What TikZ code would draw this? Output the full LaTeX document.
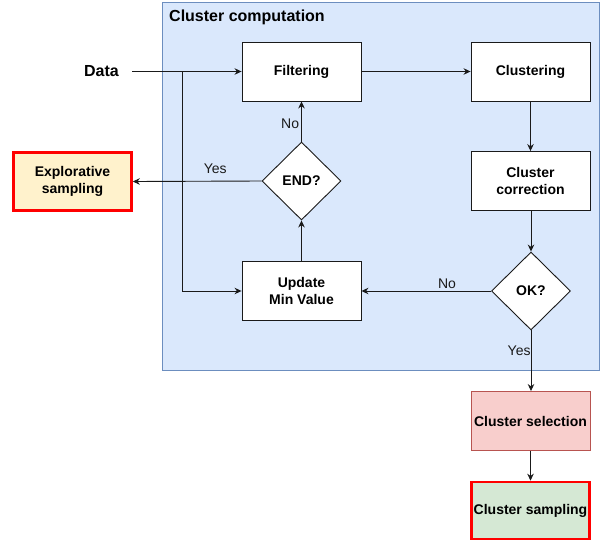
\documentclass[tikz,border=0pt]{standalone}
\usepackage{fontspec}
\setmainfont{Liberation Sans}
\usetikzlibrary{arrows.meta,shapes.geometric}
\definecolor{groupfill}{HTML}{DAE8FC}
\definecolor{groupline}{HTML}{6C8EBF}
\definecolor{yellowfill}{HTML}{FFF2CC}
\definecolor{redfill}{HTML}{F8CECC}
\definecolor{redline}{HTML}{B85450}
\definecolor{greenfill}{HTML}{D5E8D4}
\definecolor{edge}{HTML}{1A1A1A}
\begin{document}
\begin{tikzpicture}[x=1pt,y=-1pt,
  procbox/.style={draw=edge,fill=white,line width=0.9pt,minimum width=119pt,minimum height=59pt,inner sep=0pt,align=center,font=\fontsize{14}{17}\selectfont\bfseries},
  decision/.style={draw=edge,fill=white,line width=0.9pt,diamond,minimum width=79pt,minimum height=78pt,inner sep=0pt,aspect=1,font=\fontsize{14}{17}\selectfont\bfseries},
  flow/.style={draw=edge,line width=0.9pt,-{Stealth[length=7pt,width=6.5pt]}},
  plain/.style={draw=edge,line width=0.9pt},
  edgelabel/.style={font=\fontsize{14}{17}\selectfont,text=edge,inner sep=2pt}
]
\useasboundingbox (0,0) rectangle (600,544);
% group container
\draw[groupline,fill=groupfill,line width=0.9pt] (162,2) rectangle (599.5,370);
\node[anchor=west,inner sep=0pt,font=\fontsize{16}{19}\selectfont\bfseries] (title) at (169,17) {Cluster computation};

% process steps
\node[procbox] (filter) at (301.5,71.5) {Filtering};
\node[procbox] (clust) at (530.5,71.5) {Clustering};
\node[procbox] (corr) at (530.5,181) {Cluster\\correction};
\node[decision] (ok) at (531,291) {OK?};
\node[procbox] (update) at (301.5,291) {Update\\Min Value};
\node[decision] (endq) at (301.5,181) {END?};
\node[procbox,fill=yellowfill,draw=red,line width=2.6pt,minimum width=118pt,minimum height=58pt] (explore) at (72.5,181.5) {Explorative\\sampling};
\node[procbox,fill=redfill,draw=redline,minimum width=119pt] (select) at (530.5,421) {Cluster selection};
\node[procbox,fill=greenfill,draw=red,line width=2.6pt,minimum width=118pt,minimum height=57pt] (sample) at (530.5,510.5) {Cluster sampling};

% input
\node[font=\fontsize{16}{19}\selectfont\bfseries] (data) at (101.5,71.5) {Data};
\coordinate (src) at (132,71.5);
\coordinate (split) at (182,71.5);
\coordinate (down) at (182,291);

% connectors
\draw[flow] (src) -- (filter.west);
\draw[plain] (split) -- (down);
\draw[flow] (down) -- (update.west);
\draw[flow] (filter.east) -- (clust.west);
\draw[flow] (clust.south) -- (corr.north);
\draw[flow] (corr.south -| ok.north) -- (ok.north);
\draw[flow] (ok.west) -- node[edgelabel,above,pos=0.34] (nolbl) {No} (update.east);
\draw[flow] (update.north) -- (endq.south);
\draw[flow] (endq.north) -- node[edgelabel,left,pos=0.44] (nolbl2) {No} (filter.south);
\draw[flow] (endq.west) -- node[edgelabel,above,pos=0.36,yshift=5pt] (yeslbl) {Yes} (explore.east);
\draw[flow] (ok.south) -- node[edgelabel,left,pos=0.33,xshift=2pt] (yeslbl2) {Yes} (ok.south |- select.north);
\draw[flow] (select.south) -- (sample.north);
\end{tikzpicture}
\end{document}
